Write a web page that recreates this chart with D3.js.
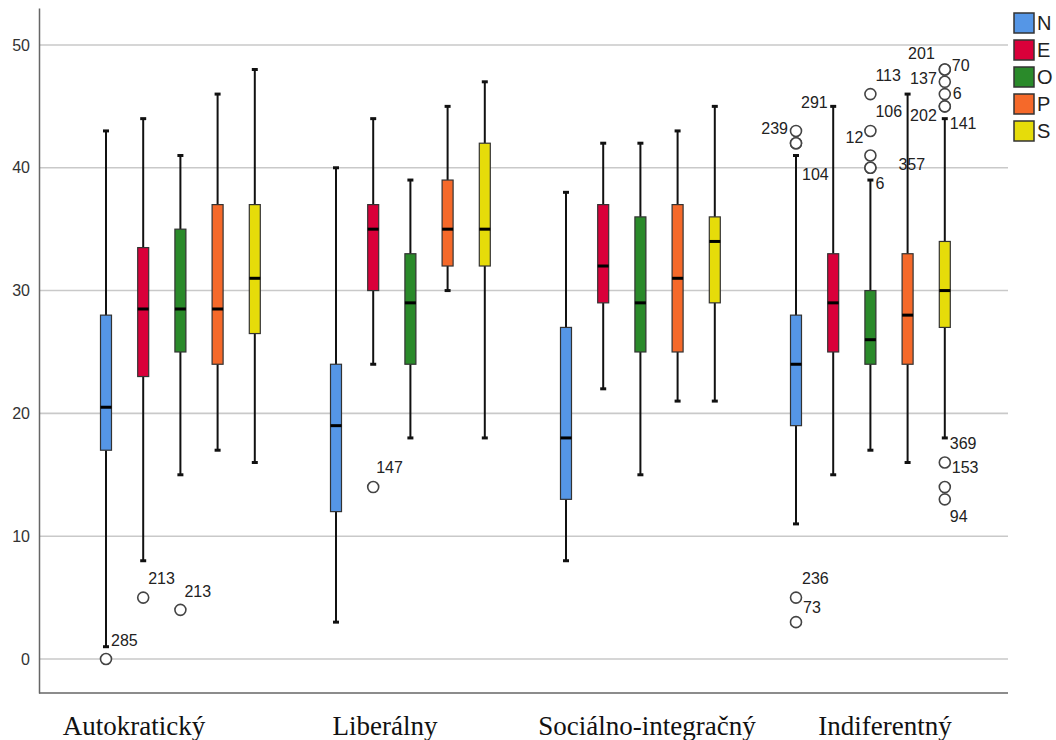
<!DOCTYPE html>
<html>
<head>
<meta charset="utf-8">
<script src="https://cdn.jsdelivr.net/npm/d3@7"></script>
<style>
  html, body { margin: 0; padding: 0; background: #fff; }
  svg { display: block; }
  .sans { font-family: Arial, "Liberation Sans", sans-serif; }
  .serif { font-family: "Liberation Serif", "Times New Roman", serif; }
</style>
</head>
<body>
<svg id="chart" width="1056" height="740"></svg>
<script>
// ---------- data ----------
const groups = ["Autokratický", "Liberálny", "Sociálno-integračný", "Indiferentný"];
const seriesNames = ["N", "E", "O", "P", "S"];
const yTicks = [0, 10, 20, 30, 40, 50];

// five-number summaries per group: [min(whisker), Q1, median, Q3, max(whisker)]
const N = [[1, 17, 20.5, 28, 43], [3, 12, 19, 24, 40], [8, 13, 18, 27, 38], [11, 19, 24, 28, 41]];
const E = [[8, 23, 28.5, 33.5, 44], [24, 30, 35, 37, 44], [22, 29, 32, 37, 42], [15, 25, 29, 33, 45]];
const O = [[15, 25, 28.5, 35, 41], [18, 24, 29, 33, 39], [15, 25, 29, 36, 42], [17, 24, 26, 30, 39]];
const P = [[17, 24, 28.5, 37, 46], [30, 32, 35, 39, 45], [21, 25, 31, 37, 43], [16, 24, 28, 33, 46]];
const S = [[16, 26.5, 31, 37, 48], [18, 32, 35, 42, 47], [21, 29, 34, 36, 45], [18, 27, 30, 34, 44]];

// outliers: [groupIndex, series, value, caseLabel]
const outliers = [
  [0, "N", 0, "285"], [0, "E", 5, "213"], [0, "O", 4, "213"],
  [1, "E", 14, "147"],
  [3, "N", 43, "239"], [3, "N", 42, "104"], [3, "N", 42, "291"], [3, "N", 5, "236"], [3, "N", 3, "73"],
  [3, "O", 46, "113"], [3, "O", 43, "106"], [3, "O", 41, "12"], [3, "O", 40, "6"], [3, "O", 40, "357"],
  [3, "S", 48, "201"], [3, "S", 48, "70"], [3, "S", 47, "137"], [3, "S", 46, "6"], [3, "S", 45, "202"],
  [3, "S", 45, "141"], [3, "S", 16, "369"], [3, "S", 14, "153"], [3, "S", 13, "94"]
];

// ---------- layout / style ----------
const colors = { N: "#5596e6", E: "#d9003a", O: "#2a8a2a", P: "#f5692a", S: "#e6dc0a" };
const stats = { N, E, O, P, S };
// label placement for outlier case numbers: [anchor, dx, dy] in outlier order
const labelPlace = [
  ["start", 5, -18], ["start", 5, -19], ["start", 4, -18],
  ["start", 3, -20],
  ["end", -8, -2], ["start", 6, 31], ["start", 5, -41], ["start", 6, -19], ["start", 7, -15],
  ["start", 5, -19], ["start", 5, -19], ["end", -7, -18], ["start", 5, 16], ["start", 28, -3],
  ["end", -10, -16], ["start", 7, -4], ["end", -8, -3], ["start", 8, -1], ["end", -8, 9],
  ["start", 5, 17], ["start", 5, -19], ["start", 7, -20], ["start", 5, 17]
];
const catLabelX = [134, 385, 647, 885];

const svg = d3.select("#chart");
const plot = { left: 39, right: 1008, top: 8, bottom: 693 };

const y = d3.scaleLinear().domain([-2.77, 53.01]).range([plot.bottom, plot.top]);
const xGroup = d3.scaleBand().domain(groups).range([65.4, 985.4]).padding(0);
const xSeries = d3.scalePoint().domain(seriesNames).range([-74.4, 74.4]);
const xOf = (gi, s) => xGroup(groups[gi]) + xGroup.bandwidth() / 2 + xSeries(s);
const boxW = 11, capW = 6;

// gridlines
svg.append("g").selectAll("line").data(yTicks).join("line")
  .attr("x1", plot.left).attr("x2", plot.right)
  .attr("y1", d => y(d)).attr("y2", d => y(d))
  .attr("stroke", "#c9c9c9").attr("stroke-width", 1.6);

// y axis
const yAxis = svg.append("g").attr("transform", `translate(${plot.left},0)`)
  .call(d3.axisLeft(y).tickValues(yTicks).tickSize(0).tickPadding(9).tickFormat(d3.format("d")));
yAxis.select(".domain").attr("stroke", "#666").attr("stroke-width", 1.5);
yAxis.selectAll("text").attr("class", "sans").attr("font-size", 16).attr("fill", "#333")
  .style("font-family", "Arial, 'Liberation Sans', sans-serif");

// bottom frame line
svg.append("line").attr("x1", plot.left).attr("x2", plot.right)
  .attr("y1", plot.bottom).attr("y2", plot.bottom)
  .attr("stroke", "#666").attr("stroke-width", 1.5);

// boxes
const boxes = [];
seriesNames.forEach(s => stats[s].forEach((st, gi) => boxes.push({ s, gi, st })));

const bg = svg.append("g");
bg.selectAll("line.wu").data(boxes).join("line")
  .attr("x1", d => xOf(d.gi, d.s)).attr("x2", d => xOf(d.gi, d.s))
  .attr("y1", d => y(d.st[3])).attr("y2", d => y(d.st[4]))
  .attr("stroke", "#111").attr("stroke-width", 2);
bg.selectAll("line.wl").data(boxes).join("line")
  .attr("x1", d => xOf(d.gi, d.s)).attr("x2", d => xOf(d.gi, d.s))
  .attr("y1", d => y(d.st[1])).attr("y2", d => y(d.st[0]))
  .attr("stroke", "#111").attr("stroke-width", 2);
// caps
["0", "4"].forEach(k => {
  bg.selectAll("line.cap" + k).data(boxes).join("line")
    .attr("x1", d => xOf(d.gi, d.s) - capW / 2).attr("x2", d => xOf(d.gi, d.s) + capW / 2)
    .attr("y1", d => y(d.st[+k])).attr("y2", d => y(d.st[+k]))
    .attr("stroke", "#111").attr("stroke-width", 3);
});
bg.selectAll("rect").data(boxes).join("rect")
  .attr("x", d => xOf(d.gi, d.s) - boxW / 2).attr("width", boxW)
  .attr("y", d => y(d.st[3])).attr("height", d => y(d.st[1]) - y(d.st[3]))
  .attr("fill", d => colors[d.s]).attr("stroke", "#333").attr("stroke-width", 1.2);
bg.selectAll("line.med").data(boxes).join("line")
  .attr("x1", d => xOf(d.gi, d.s) - boxW / 2).attr("x2", d => xOf(d.gi, d.s) + boxW / 2)
  .attr("y1", d => y(d.st[2])).attr("y2", d => y(d.st[2]))
  .attr("stroke", "#000").attr("stroke-width", 3);

// outliers
const og = svg.append("g");
og.selectAll("circle").data(outliers).join("circle")
  .attr("cx", d => xOf(d[0], d[1])).attr("cy", d => y(d[2])).attr("r", 5.5)
  .attr("fill", "#fff").attr("stroke", "#444").attr("stroke-width", 1.6);
og.selectAll("text").data(outliers).join("text")
  .attr("class", "sans")
  .attr("x", (d, i) => xOf(d[0], d[1]) + labelPlace[i][1])
  .attr("y", (d, i) => y(d[2]) + labelPlace[i][2])
  .attr("text-anchor", (d, i) => labelPlace[i][0])
  .attr("dominant-baseline", "central")
  .attr("font-size", 16).attr("fill", "#222")
  .text(d => d[3]);

// category labels
svg.append("g").selectAll("text").data(groups).join("text")
  .attr("class", "serif")
  .attr("x", (d, i) => catLabelX[i]).attr("y", 735)
  .attr("text-anchor", "middle")
  .attr("font-size", 27).attr("fill", "#111")
  .text(d => d);

// legend
const lg = svg.append("g").attr("transform", "translate(1014,13)");
const li = lg.selectAll("g").data(seriesNames).join("g")
  .attr("transform", (d, i) => `translate(0,${i * 27})`);
li.append("rect").attr("width", 20).attr("height", 20)
  .attr("fill", d => colors[d]).attr("stroke", "#333").attr("stroke-width", 1.5);
li.append("text").attr("class", "sans").attr("x", 23).attr("y", 10).attr("dominant-baseline", "central")
  .attr("font-size", 20).attr("fill", "#222").text(d => d);
</script>
</body>
</html>
